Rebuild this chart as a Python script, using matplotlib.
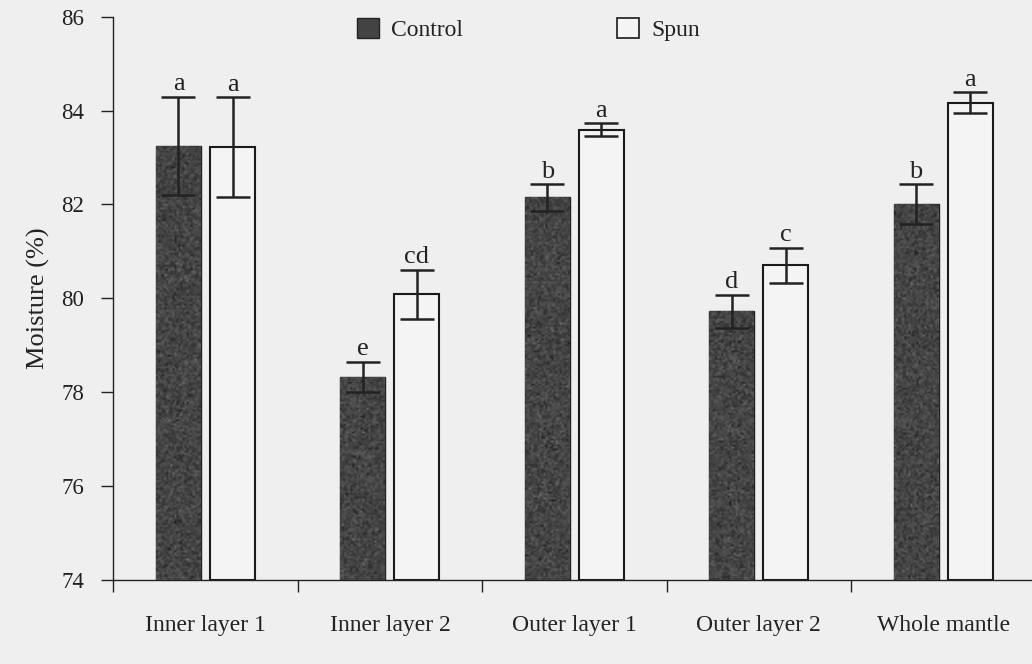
import numpy as np
import matplotlib
matplotlib.use("Agg")
import matplotlib.pyplot as plt
from matplotlib.patches import Patch

plt.rcParams["font.family"] = ["Liberation Serif", "DejaVu Serif"]

# Mantle moisture by layer, control vs spun (mean ± SE) with significance letters
categories = ["Inner layer 1", "Inner layer 2", "Outer layer 1", "Outer layer 2", "Whole mantle"]
control_mean = [83.25, 78.33, 82.15, 79.72, 82.01]
control_err = [1.05, 0.32, 0.29, 0.36, 0.42]
spun_mean = [83.22, 80.09, 83.59, 80.70, 84.17]
spun_err = [1.06, 0.52, 0.14, 0.38, 0.22]
control_letters = ["a", "e", "b", "d", "b"]
spun_letters = ["a", "cd", "a", "c", "a"]
y_ticks = [74, 76, 78, 80, 82, 84, 86]

BG = "#efefef"
INK = "#222222"
DARK = "#434343"

fig = plt.figure(figsize=(10.32, 6.64), dpi=100, facecolor=BG)
ax = fig.add_axes([113.3 / 1032, 1 - 580 / 664, 922 / 1032, 563.3 / 664])
ax.set_facecolor(BG)

x = np.arange(len(categories))
width = 0.244
offset = 0.1465
base = y_ticks[0]

ctrl_heights = [v - base for v in control_mean]
spun_heights = [v - base for v in spun_mean]

ctrl_bars = ax.bar(x - offset, ctrl_heights, width, bottom=base, color=DARK,
                   edgecolor="#222222", linewidth=1.0, zorder=2)
spun_bars = ax.bar(x + offset, spun_heights, width, bottom=base, color="#f4f4f4",
                   edgecolor="#1a1a1a", linewidth=1.5, zorder=2)

# grainy print texture inside the dark bars
rng = np.random.default_rng(7)
for bar in ctrl_bars:
    x0, y0 = bar.get_x(), bar.get_y()
    w, h = bar.get_width(), bar.get_height()
    grain = 0.27 + 0.05 * rng.standard_normal((int(h * 24), int(w * 92)))
    im = ax.imshow(grain, extent=(x0, x0 + w, y0, y0 + h), cmap="gray",
                   vmin=0, vmax=1, aspect="auto", interpolation="bilinear",
                   zorder=2.5)
    im.set_clip_path(bar)

ax.errorbar(x - offset, control_mean, yerr=control_err, fmt="none",
            ecolor=INK, elinewidth=1.8, capsize=12, capthick=1.8, zorder=4)
ax.errorbar(x + offset, spun_mean, yerr=spun_err, fmt="none",
            ecolor=INK, elinewidth=1.8, capsize=12, capthick=1.8, zorder=4)

for xi, m, e, lab in zip(x - offset, control_mean, control_err, control_letters):
    ax.annotate(lab, (xi, m + e), xytext=(0, 4.5), textcoords="offset points",
                ha="center", va="baseline", fontsize=19, color=INK)
for xi, m, e, lab in zip(x + offset, spun_mean, spun_err, spun_letters):
    ax.annotate(lab, (xi, m + e), xytext=(0, 4.5), textcoords="offset points",
                ha="center", va="baseline", fontsize=19, color=INK)

ax.set_xlim(-0.5, len(categories) - 0.5)
ax.set_ylim(y_ticks[0], y_ticks[-1])

# category separators as major ticks, names on minor ticks
ax.set_xticks(np.arange(-0.5, len(categories), 1.0))
ax.set_xticklabels([])
ax.set_xticks(x, minor=True)
ax.set_xticklabels(categories, minor=True, fontsize=17, color=INK)
ax.tick_params(axis="x", which="major", direction="out", length=8.6,
               width=1.0, color=INK)
ax.tick_params(axis="x", which="minor", length=0, pad=25.5)

ax.set_yticks(y_ticks)
ax.set_yticklabels([str(t) for t in y_ticks], fontsize=16.5, color=INK)
ax.tick_params(axis="y", direction="out", length=9, width=1.0, color=INK, pad=12)

for side in ("top", "right"):
    ax.spines[side].set_visible(False)
for side in ("left", "bottom"):
    ax.spines[side].set_color(INK)
    ax.spines[side].set_linewidth(1.0)

ax.set_ylabel("Moisture (%)", fontsize=19, color=INK)
ax.yaxis.set_label_coords(-0.069, 0.5)

handles = [Patch(facecolor=DARK, edgecolor="#222222", linewidth=1.0, label="Control"),
           Patch(facecolor="#f4f4f4", edgecolor="#1a1a1a", linewidth=1.2, label="Spun")]
fig.legend(handles=handles, loc="upper left", bbox_to_anchor=(357 / 1032, 1 - 18 / 664),
           ncol=2, frameon=False, fontsize=17, handlelength=0.95, handleheight=0.95,
           handletextpad=0.5, columnspacing=6.5, borderpad=0, borderaxespad=0,
           labelcolor=INK)

fig.savefig("out.png", dpi=100, facecolor=BG)
